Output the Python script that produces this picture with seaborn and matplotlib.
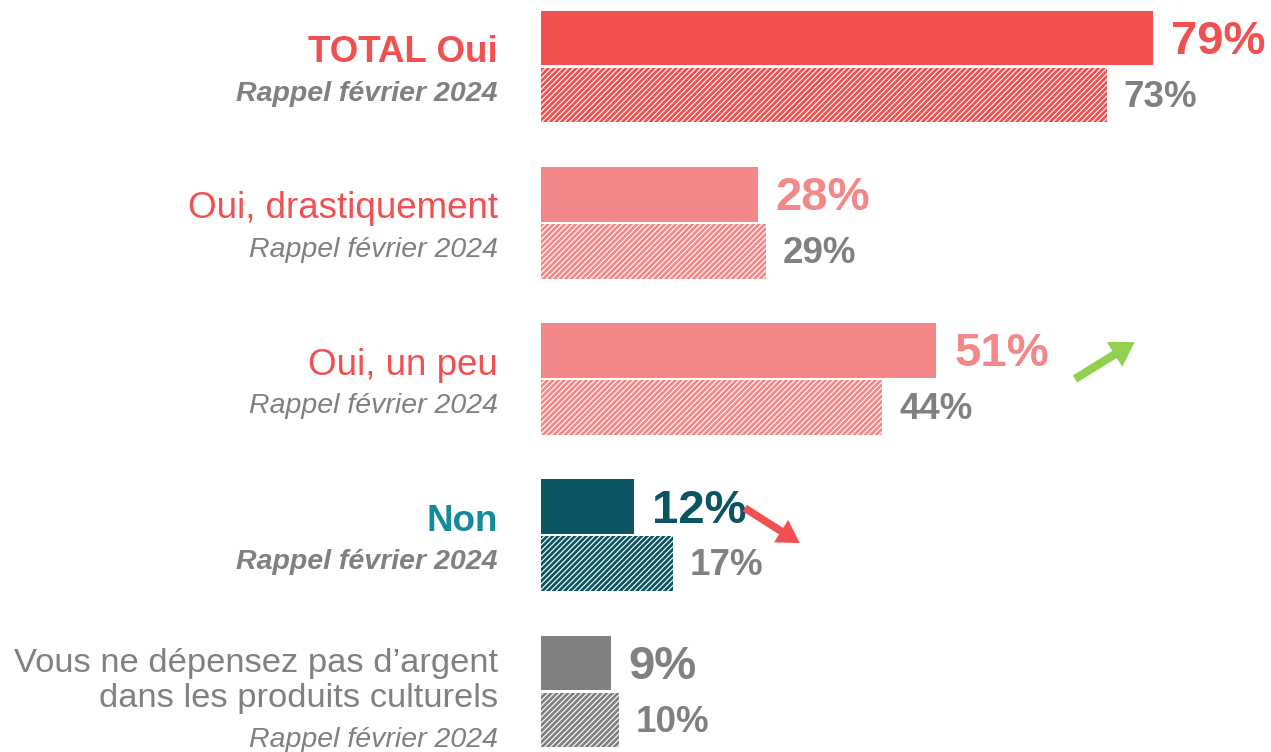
import pandas as pd
import matplotlib.pyplot as plt
import seaborn as sns

# values (current wave vs "Rappel février 2024")
categories = ["TOTAL Oui", "Oui, drastiquement", "Oui, un peu", "Non",
              "Vous ne dépensez pas d’argent\ndans les produits culturels"]
current = [79, 28, 51, 12, 9]
rappel = [73, 29, 44, 17, 10]
bar_colors = ["#F05050", "#F48888", "#F48888", "#0B5563", "#808080"]
label_colors = ["#F05050", "#F05050", "#F05050", "#138B9B", "#808080"]
label_bold = [True, False, False, True, False]
rappel_label = "Rappel février 2024"
GREY = "#808080"

df = pd.DataFrame({
    "categorie": categories * 2,
    "vague": ["2025"] * len(categories) + ["Rappel"] * len(categories),
    "valeur": current + rappel,
})

sns.set_style("white")
plt.rcParams["font.family"] = ["Liberation Sans", "DejaVu Sans"]
plt.rcParams["hatch.linewidth"] = 2.0

fig = plt.figure(figsize=(12.71, 7.52), dpi=100)
# axes: x=0 at px 541, 7.75 px per percent point
ax = fig.add_axes([541 / 1271, 0, 730 / 1271, 1])

sns.barplot(data=df, y="categorie", x="valeur", hue="vague", orient="h",
            order=categories, width=0.73, gap=0.04, legend=False, ax=ax)

# solid bars for current wave, hatched for the reminder
for i, bar in enumerate(ax.containers[0]):
    bar.set_facecolor(bar_colors[i])
    bar.set_edgecolor("none")
    bar.set_linewidth(0)
for i, bar in enumerate(ax.containers[1]):
    bar.set_facecolor("white")
    bar.set_edgecolor(bar_colors[i])
    bar.set_hatch("//////")
    bar.set_linewidth(0)

ax.set_xlim(0, 730 / 7.75)
px = 1 / 156.25  # one pixel in category units
ax.set_ylim(4.387, -0.4256)
ax.set_axis_off()

# value labels
for i, bar in enumerate(ax.containers[0]):
    yc = bar.get_y() + bar.get_height() / 2
    ax.text(current[i] + 2.3, yc + 4 * px, f"{current[i]}%", va="center", ha="left",
            fontsize=34, fontweight="bold", color=bar_colors[i])
for i, bar in enumerate(ax.containers[1]):
    yc = bar.get_y() + bar.get_height() / 2
    ax.text(rappel[i] + 2.2, yc + 2 * px, f"{rappel[i]}%", va="center", ha="left",
            fontsize=26.5, fontweight="bold", color=GREY)

# category labels on the left
xl = -43 / 7.75
for i, cat in enumerate(categories):
    nlines = cat.count("\n") + 1
    fs = 26.5 if nlines == 1 else 24.8
    ax.text(xl, i - (14 - 3.5 * (nlines - 1)) * px, cat, ha="right", va="center", fontsize=fs,
            color=label_colors[i], fontweight="bold" if label_bold[i] else "normal",
            linespacing=1.13, clip_on=False)
    ax.text(xl, i + (27 + 21 * (nlines - 1)) * px, rappel_label, ha="right", va="center",
            fontsize=20.5, style="italic", color=GREY,
            fontweight="bold" if label_bold[i] else "normal", clip_on=False)

# trend arrows
ax.annotate("", xy=(76.6, 1.763), xytext=(68.9, 2.0),
            arrowprops=dict(facecolor="#92D050", edgecolor="none", width=6,
                            headwidth=21, headlength=17, shrink=0))
ax.annotate("", xy=(33.4, 3.05), xytext=(26.3, 2.826),
            arrowprops=dict(facecolor="#F05050", edgecolor="none", width=5.5,
                            headwidth=19, headlength=16, shrink=0))

fig.savefig("out.png", dpi=100)
